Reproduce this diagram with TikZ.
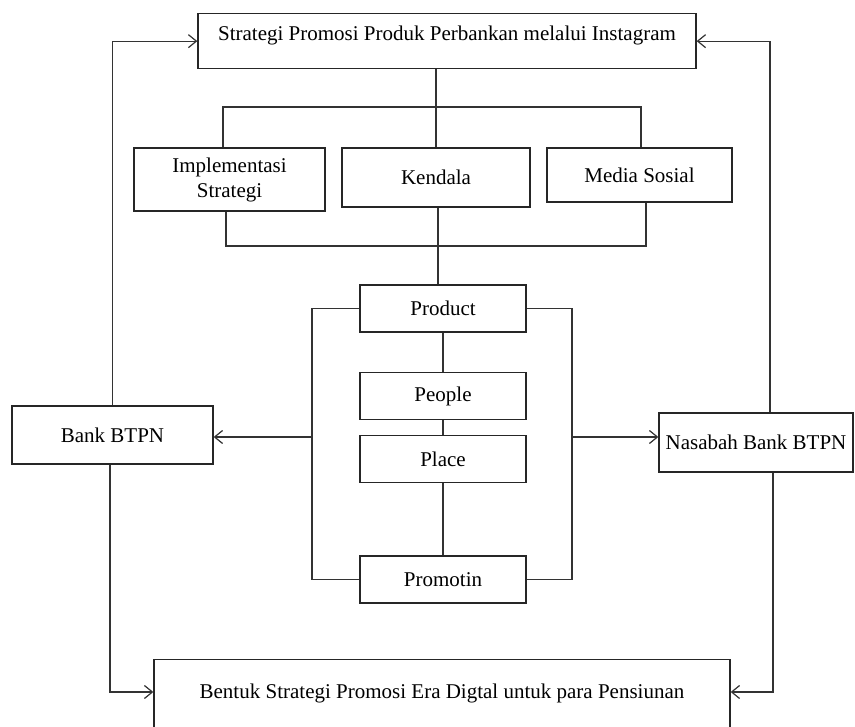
\documentclass[tikz,border=0pt]{standalone}
\usepackage{fontspec}
\setmainfont{Liberation Serif}
\usetikzlibrary{arrows.meta}
\colorlet{boxLine}{black!85}
\colorlet{linkLine}{black!80}

\begin{document}
\begin{tikzpicture}[
  x=1pt,
  y=-1pt,
  every node/.style={
    font=\fontsize{21}{25}\selectfont,
  },
  box/.style={
    draw=boxLine,
    line width=1.3pt,
    inner sep=0pt,
    align=center,
  },
  link/.style={
    draw=linkLine,
    line width=1.2pt,
  },
  arrow/.style={
    link,
    -{Straight Barb[length=8pt,width=13pt,line width=1.2pt]},
  }
]
\path[use as bounding box, clip] (0,0) rectangle (855,727);
% boxes
\node[box, anchor=north, minimum width=498pt, text height=27pt, text depth=28pt] (strategi) at (447,13) {Strategi Promosi Produk Perbankan melalui Instagram};
\node[box, minimum width=191pt, minimum height=63pt] (impl) at (229.5,179.5) {Implementasi\\Strategi};
\node[box, minimum width=188pt, minimum height=59pt] (kendala) at (436,177.5) {Kendala};
\node[box, minimum width=185pt, minimum height=54pt] (media) at (639.5,175) {Media Sosial};
\foreach \n/\t/\y in {product/Product/308.5,people/People/396,place/Place/459,promotin/Promotin/579.5} {
  \node[box, minimum width=166pt, minimum height=47pt] (\n) at (443,\y) {\t};
}
\node[box, minimum width=201pt, minimum height=58pt] (bank) at (112.5,435) {Bank BTPN};
\node[box, minimum width=194pt, minimum height=59pt] (nasabah) at (756,442.5) {Nasabah Bank BTPN};
\node[box, anchor=north, minimum width=576pt, text height=39pt, text depth=41pt] (bentuk) at (442,659) {Bentuk Strategi Promosi Era Digtal untuk para Pensiunan};
% forks
\coordinate (forkTop) at (436,107);
\coordinate (forkBot) at (438,246);
\draw[link] (forkTop |- strategi.south) -- (forkTop |- kendala.north);
\draw[link] ([xshift=-6.5pt]impl.north) |- (forkTop) -| ([xshift=1.5pt]media.north);
\draw[link] ([xshift=-3.5pt]impl.south) |- (forkBot) -| ([xshift=6.5pt]media.south);
\draw[link] (forkBot |- kendala.south) -- (forkBot |- product.north);
\foreach \a/\b in {product/people,people/place,place/promotin} {
  \draw[link] (\a) -- (\b);
}
% brackets
\coordinate (leftBar) at (312,437);
\coordinate (rightBar) at (572,437);
\draw[link] (product.west) -| (leftBar) |- (promotin.west);
\draw[link] (product.east) -| (rightBar) |- (promotin.east);
\draw[arrow] (leftBar) -- (leftBar -| bank.east);
\draw[arrow] (rightBar) -- (rightBar -| nasabah.west);
% outer loop
\coordinate (bentukW) at ([yshift=-33pt]bentuk.north west);
\coordinate (bentukE) at ([yshift=-33pt]bentuk.north east);
\draw[arrow] (bank.north) |- (strategi.west);
\draw[arrow] ([xshift=14pt]nasabah.north) |- (strategi.east);
\draw[arrow] ([xshift=-2.5pt]bank.south) |- (bentukW);
\draw[arrow] ([xshift=17pt]nasabah.south) |- (bentukE);
\end{tikzpicture}
\end{document}
